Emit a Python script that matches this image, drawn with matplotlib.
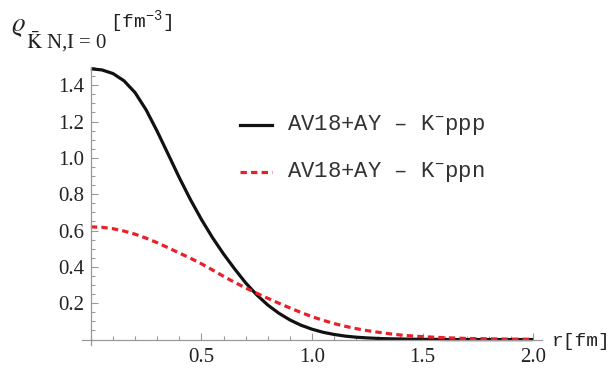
import numpy as np
import matplotlib
matplotlib.use("Agg")
import matplotlib.pyplot as plt
from matplotlib.ticker import MultipleLocator, FixedLocator

# radial grid, fm
r = [0.00, 0.05, 0.10, 0.15, 0.20, 0.25, 0.30, 0.35, 0.40, 0.45,
     0.50, 0.55, 0.60, 0.65, 0.70, 0.75, 0.80, 0.85, 0.90, 0.95,
     1.00, 1.05, 1.10, 1.15, 1.20, 1.25, 1.30, 1.35, 1.40, 1.45,
     1.50, 1.55, 1.60, 1.65, 1.70, 1.75, 1.80, 1.85, 1.90, 1.95, 2.00]

# K- ppp density
rho_ppp = [1.490, 1.484, 1.464, 1.424, 1.359, 1.264, 1.146, 1.019, 0.891, 0.771,
           0.661, 0.561, 0.471, 0.389, 0.312, 0.246, 0.190, 0.145, 0.108, 0.079,
           0.057, 0.040, 0.028, 0.019, 0.013, 0.009, 0.006, 0.004, 0.003, 0.002,
           0.001, 0.001, 0.000, 0.000, 0.000, 0.000, 0.000, 0.000, 0.000, 0.000, 0.000]

# K- ppn density
rho_ppn = [0.620, 0.618, 0.610, 0.597, 0.580, 0.558, 0.533, 0.505, 0.476, 0.448,
           0.417, 0.383, 0.348, 0.315, 0.284, 0.255, 0.227, 0.200, 0.174, 0.149,
           0.126, 0.106, 0.088, 0.073, 0.060, 0.049, 0.040, 0.032, 0.025, 0.020,
           0.016, 0.013, 0.010, 0.008, 0.006, 0.005, 0.004, 0.003, 0.002, 0.002, 0.001]

labels = ["AV18+AY \u2013 K$^{\\mathregular{-}}$ppp", "AV18+AY \u2013 K$^{\\mathregular{-}}$ppn"]
xticks = [0.5, 1.0, 1.5, 2.0]
yticks = [0.2, 0.4, 0.6, 0.8, 1.0, 1.2, 1.4]

plt.rcParams['font.family'] = ['Liberation Serif', 'DejaVu Serif']
plt.rcParams['mathtext.fontset'] = 'stix'

fig = plt.figure(figsize=(6.13, 3.70), dpi=100)
ax = fig.add_axes([82 / 613, 1 - 345 / 370, 460 / 613, (345 - 67) / 370])

ax.plot(r, rho_ppp, color='#111111', lw=2.3, solid_capstyle='butt',
        solid_joinstyle='round')
ax.plot(r, rho_ppn, color='#e8202a', lw=2.3, dashes=(2.0, 1.3))

ax.set_xlim(-0.04, 2.04)
ax.set_ylim(-0.03, 1.5)

for s in ['top', 'right']:
    ax.spines[s].set_visible(False)
ax.spines['left'].set_position(('data', 0))
ax.spines['bottom'].set_position(('data', 0))
for s in ['left', 'bottom']:
    ax.spines[s].set_color('#999999')
    ax.spines[s].set_linewidth(0.9)

ax.xaxis.set_major_locator(FixedLocator(xticks))
ax.xaxis.set_minor_locator(MultipleLocator(0.1))
ax.yaxis.set_major_locator(FixedLocator(yticks))
ax.yaxis.set_minor_locator(MultipleLocator(0.05))
ax.set_xticklabels(['%.1f' % v for v in xticks])
ax.set_yticklabels(['%.1f' % v for v in yticks])
ax.tick_params(which='both', direction='in', color='#999999', width=0.8,
               labelsize=15, labelcolor='#222222')
ax.tick_params(which='major', length=5)
ax.tick_params(which='minor', length=3)
ax.tick_params(axis='x', pad=6)
ax.tick_params(axis='y', pad=5)

# legend drawn by hand, Mathematica style
fig.add_artist(plt.Line2D([240 / 613, 272 / 613], [1 - 125 / 370] * 2,
                          color='#111111', lw=2.3))
fig.add_artist(plt.Line2D([240 / 613, 272 / 613], [1 - 172 / 370] * 2,
                          color='#e8202a', lw=2.3, dashes=(2.0, 1.3)))
fig.text(287 / 613, 1 - 125 / 370, labels[0], family='Liberation Mono',
         fontsize=16, va='center', ha='left', color='#333333')
fig.text(287 / 613, 1 - 172 / 370, labels[1], family='Liberation Mono',
         fontsize=16, va='center', ha='left', color='#333333')

# y label: rho, subscript and unit placed separately
fig.text(11 / 613, 1 - 28 / 370, r'$\varrho$', fontsize=19,
         va='center', ha='left', color='#222222')
fig.text(26 / 613, 1 - 42 / 370, r'$\bar{\mathrm{K}}$ N,I = 0',
         fontsize=15, va='center', ha='left', color='#222222')
fig.text(110 / 613, 1 - 22 / 370, '[fm$^{\\mathregular{-3}}$]', family='Liberation Mono',
         fontsize=14, va='center', ha='left', color='#222222')

# x label
fig.text(552 / 613, 1 - 341 / 370, 'r[fm]', family='Liberation Mono',
         fontsize=14, va='center', ha='left', color='#222222')

fig.savefig('out.png', dpi=100)
